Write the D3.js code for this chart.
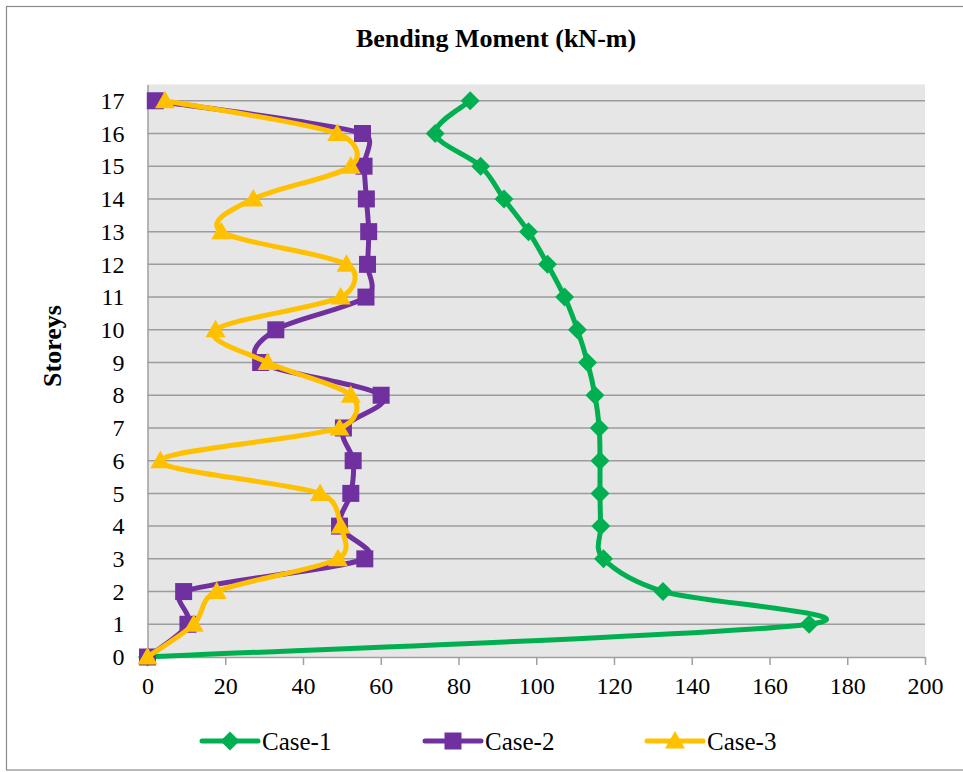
<!DOCTYPE html>
<html>
<head>
<meta charset="utf-8">
<script src="https://cdn.jsdelivr.net/npm/d3@7"></script>
<style>
  html, body { margin: 0; padding: 0; background: #ffffff; }
  svg { display: block; }
  text { font-family: "Liberation Serif", "Times New Roman", serif; fill: #000; }
</style>
</head>
<body>
<svg id="chart" width="963" height="772"></svg>
<script>
// Storey levels (vertical axis) and bending moment per case (kN-m)
const storeys = [0, 1, 2, 3, 4, 5, 6, 7, 8, 9, 10, 11, 12, 13, 14, 15, 16, 17];
const case1 = [0, 170.2, 132.6, 117.3, 116.6, 116.4, 116.4, 116.2, 115.1, 113.2, 110.6, 107.3, 102.9, 98.0, 91.7, 85.7, 74.0, 83.0];
const case2 = [0, 10.4, 9.3, 55.9, 49.4, 52.3, 52.9, 50.4, 60.1, 29.1, 33.0, 56.2, 56.6, 56.9, 56.3, 55.7, 55.3, 2.0];
const case3 = [0, 11.9, 17.8, 49.0, 49.7, 44.4, 3.3, 49.4, 52.3, 30.9, 17.5, 49.7, 51.2, 19.0, 27.2, 52.3, 48.8, 4.5];
const seriesNames = ["Case-1", "Case-2", "Case-3"];
const seriesColors = ["#00B050", "#7030A0", "#FFC000"];
const seriesMarkers = ["diamond", "square", "triangle"];
const xTicks = [0, 20, 40, 60, 80, 100, 120, 140, 160, 180, 200];
const yTicks = storeys;

const svg = d3.select("#chart");
const plot = { left: 147.5, right: 925, top: 84.4, bottom: 657 };

// Chart frame
svg.append("rect")
  .attr("x", 6.5).attr("y", 6.5)
  .attr("width", 970).attr("height", 763.5)
  .attr("fill", "#fff").attr("stroke", "#8a8a8a").attr("stroke-width", 1.2);

const x = d3.scaleLinear().domain([0, 200]).range([plot.left, plot.right]);
const y = d3.scaleLinear().domain([0, 17.5]).range([plot.bottom, plot.top]);

// Plot background
svg.append("rect")
  .attr("x", plot.left).attr("y", plot.top)
  .attr("width", plot.right - plot.left).attr("height", plot.bottom - plot.top)
  .attr("fill", "#e6e6e6");

// Horizontal gridlines at each storey
svg.append("g")
  .selectAll("line")
  .data(yTicks.filter(d => d > 0))
  .join("line")
  .attr("x1", plot.left).attr("x2", plot.right)
  .attr("y1", d => y(d)).attr("y2", d => y(d))
  .attr("stroke", "#9c9c9c").attr("stroke-width", 1.5);

// X axis
const xAxis = svg.append("g")
  .attr("transform", `translate(0,${plot.bottom})`)
  .call(d3.axisBottom(x).tickValues(xTicks).tickSize(8).tickSizeOuter(0).tickPadding(12));
xAxis.select(".domain").attr("stroke", "#a0a0a0").attr("stroke-width", 1.5);
xAxis.selectAll(".tick line").attr("stroke", "#a0a0a0").attr("stroke-width", 1.5);
xAxis.selectAll(".tick text")
  .attr("font-size", 24)
  .attr("font-family", "Liberation Serif, serif")
  .attr("fill", "#000");

// Y axis
const yAxis = svg.append("g")
  .attr("transform", `translate(${plot.left},0)`)
  .call(d3.axisLeft(y).tickValues(yTicks).tickSize(0).tickSizeOuter(0).tickPadding(23));
yAxis.select(".domain").attr("stroke", "#a0a0a0").attr("stroke-width", 1.5);
yAxis.selectAll(".tick text")
  .attr("font-size", 24)
  .attr("font-family", "Liberation Serif, serif")
  .attr("fill", "#000");

// Title and axis label
svg.append("text")
  .attr("x", 496).attr("y", 38)
  .attr("text-anchor", "middle").attr("dominant-baseline", "central")
  .attr("font-size", 26).attr("font-weight", "bold")
  .text("Bending Moment (kN-m)");

svg.append("text")
  .attr("transform", "translate(52,346) rotate(-90)")
  .attr("text-anchor", "middle").attr("dominant-baseline", "central")
  .attr("font-size", 26).attr("font-weight", "bold")
  .text("Storeys");

// Marker shapes
function markerPath(kind) {
  if (kind === "diamond") return "M0,-9.5L9.5,0L0,9.5L-9.5,0Z";
  if (kind === "square") return "M-8.5,-8.5H8.5V8.5H-8.5Z";
  return "M0,-10L10,7.5H-10Z";
}

// Smoothed line: Bezier segments whose handles follow the neighbour chord (1/6),
// each handle capped at half the length of the segment it points along.
function smoothPath(pts) {
  const n = pts.length;
  const dist = (a, b) => Math.hypot(b[0] - a[0], b[1] - a[1]);
  const outC = [], inC = [];
  for (let i = 0; i < n; i++) {
    const p = pts[i];
    const prev = pts[Math.max(0, i - 1)];
    const next = pts[Math.min(n - 1, i + 1)];
    const tx = (next[0] - prev[0]) / 6, ty = (next[1] - prev[1]) / 6;
    const tl = Math.hypot(tx, ty) || 1;
    const fOut = i < n - 1 ? Math.min(1, dist(p, next) / 2 / tl) : 0;
    const fIn = i > 0 ? Math.min(1, dist(prev, p) / 2 / tl) : 0;
    outC.push([p[0] + tx * fOut, p[1] + ty * fOut]);
    inC.push([p[0] - tx * fIn, p[1] - ty * fIn]);
  }
  const path = d3.path();
  path.moveTo(pts[0][0], pts[0][1]);
  for (let i = 1; i < n; i++) {
    path.bezierCurveTo(outC[i - 1][0], outC[i - 1][1], inC[i][0], inC[i][1], pts[i][0], pts[i][1]);
  }
  return path.toString();
}

const allSeries = [case1, case2, case3].map((vals, i) => ({
  name: seriesNames[i],
  color: seriesColors[i],
  marker: seriesMarkers[i],
  points: vals.map((v, j) => ({ v, s: storeys[j] }))
}));

allSeries.forEach(s => {
  const g = svg.append("g");
  g.append("path")
    .datum(s.points)
    .attr("d", d => smoothPath(d.map(p => [x(p.v), y(p.s)])))
    .attr("fill", "none")
    .attr("stroke", s.color)
    .attr("stroke-width", 5)
    .attr("stroke-linejoin", "round")
    .attr("stroke-linecap", "round");
  g.selectAll("path.mk")
    .data(s.points)
    .join("path")
    .attr("class", "mk")
    .attr("d", markerPath(s.marker))
    .attr("transform", d => `translate(${x(d.v)},${y(d.s)})`)
    .attr("fill", s.color);
});

// Legend
const legendX = [202, 425, 647];
const legendY = 741;
allSeries.forEach((s, i) => {
  const g = svg.append("g").attr("transform", `translate(${legendX[i]},${legendY})`);
  g.append("line")
    .attr("x1", 0).attr("x2", 56)
    .attr("y1", 0).attr("y2", 0)
    .attr("stroke", s.color).attr("stroke-width", 5).attr("stroke-linecap", "round");
  g.append("path")
    .attr("d", markerPath(s.marker))
    .attr("transform", "translate(28,0)")
    .attr("fill", s.color);
  g.append("text")
    .attr("x", 60).attr("y", 0)
    .attr("dominant-baseline", "central")
    .attr("font-size", 25)
    .text(s.name);
});
</script>
</body>
</html>
